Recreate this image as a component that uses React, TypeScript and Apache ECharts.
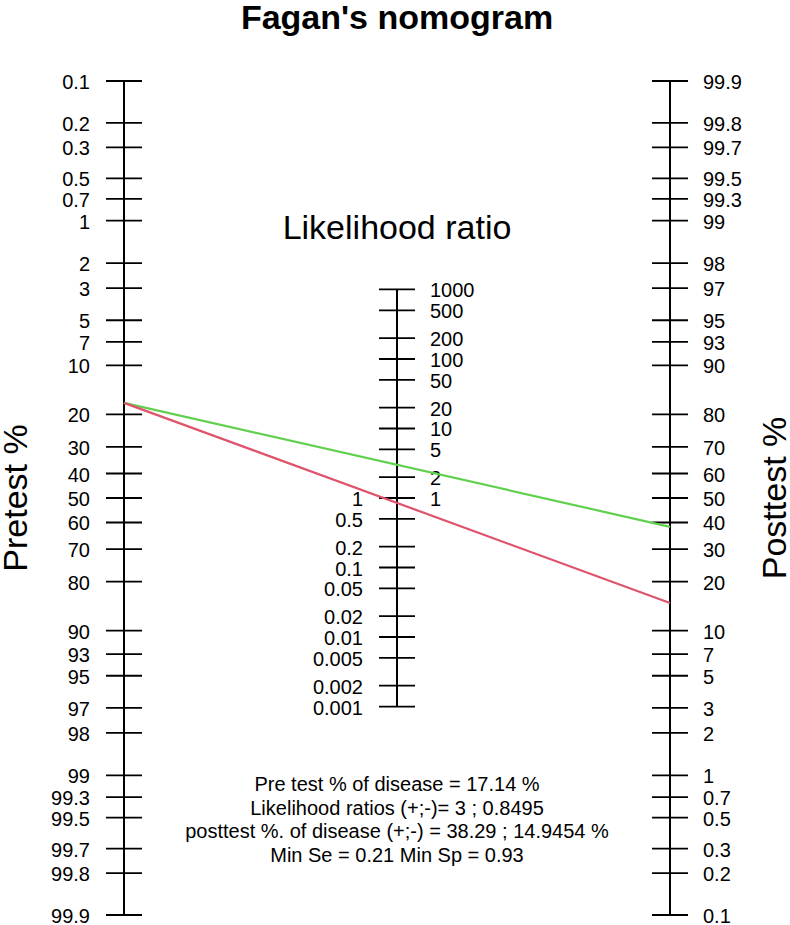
import React, { useEffect, useRef } from "react";
import * as echarts from "echarts";

// ---- data ----
const pretestTicks = [0.1, 0.2, 0.3, 0.5, 0.7, 1, 2, 3, 5, 7, 10, 20, 30, 40, 50, 60, 70, 80, 90, 93, 95, 97, 98, 99, 99.3, 99.5, 99.7, 99.8, 99.9];
const posttestTicks = [0.1, 0.2, 0.3, 0.5, 0.7, 1, 2, 3, 5, 7, 10, 20, 30, 40, 50, 60, 70, 80, 90, 93, 95, 97, 98, 99, 99.3, 99.5, 99.7, 99.8, 99.9];
const lrTicksUpper = [1000, 500, 200, 100, 50, 20, 10, 5, 2, 1];
const lrTicksLower = [1, 0.5, 0.2, 0.1, 0.05, 0.02, 0.01, 0.005, 0.002, 0.001];

const pretest = 17.14;
const lrPositive = 3;
const lrNegative = 0.8495;
const posttestPositive = 38.29;
const posttestNegative = 14.9454;
const minSe = 0.21;
const minSp = 0.93;

const title = "Fagan's nomogram";
const middleTitle = "Likelihood ratio";
const leftName = "Pretest %";
const rightName = "Posttest %";
const infoLines = [
  `Pre test % of disease = ${pretest} %`,
  `Likelihood ratios (+;-)= ${lrPositive} ; ${lrNegative}`,
  `posttest %. of disease (+;-) = ${posttestPositive} ; ${posttestNegative} %`,
  `Min Se = ${minSe} Min Sp = ${minSp}`,
];

const FONT = '"Liberation Sans", Arial, Helvetica, sans-serif';
const GREEN = "#61D04F";
const RED = "#DF536B";
const BIG = 34;
const SMALL = 20;

const logit = (pct: number) => {
  const p = pct / 100;
  return Math.log(p / (1 - p));
};

function tickSeries(items: { x: number; y: number; side: number; label: string }[]) {
  return {
    type: "custom",
    coordinateSystem: "cartesian2d",
    clip: false,
    silent: true,
    z: 3,
    data: items.map((d) => [d.x, d.y, d.side]),
    renderItem: (params: any, api: any) => {
      const it = items[params.dataIndex];
      const pt = api.coord([api.value(0), api.value(1)]);
      const px = pt[0];
      const py = pt[1];
      const side = it.side;
      return {
        type: "group",
        children: [
          {
            type: "line",
            shape: { x1: px - 18, y1: py, x2: px + 18, y2: py },
            style: { stroke: "#000", lineWidth: 1.8 },
          },
          {
            type: "text",
            x: px + (side < 0 ? -34 : 33),
            y: py + 1,
            style: {
              text: it.label,
              fontSize: SMALL,
              fontFamily: FONT,
              fill: "#000",
              textAlign: side < 0 ? "right" : "left",
              align: side < 0 ? "right" : "left",
              textVerticalAlign: "middle",
              verticalAlign: "middle",
            },
          },
        ],
      };
    },
  };
}

function axisLine(x: number, y0: number, y1: number) {
  return {
    type: "line",
    data: [
      [x, y0],
      [x, y1],
    ],
    showSymbol: false,
    symbol: "none",
    clip: false,
    silent: true,
    z: 2,
    lineStyle: { color: "#000", width: 2 },
  };
}

function label(text: string, x: number, y: number, size: number, extra: any = {}) {
  return {
    type: "text",
    x,
    y,
    rotation: extra.rotation || 0,
    style: {
      text,
      fontSize: size,
      fontWeight: extra.bold ? "bold" : "normal",
      fontFamily: FONT,
      fill: "#000",
      textAlign: "center",
      align: "center",
      textVerticalAlign: "middle",
      verticalAlign: "middle",
    },
  };
}

export default function App() {
  const ref = useRef<HTMLDivElement>(null);

  useEffect(() => {
    if (!ref.current) return;
    const chart = echarts.init(ref.current, null, { renderer: "svg" });

    const yMin = logit(pretestTicks[0]);
    const yMax = logit(pretestTicks[pretestTicks.length - 1]);

    const leftItems = pretestTicks.map((p) => ({ x: 0, y: logit(p), side: -1, label: String(p) }));
    const rightItems = posttestTicks.map((p) => ({ x: 1, y: -logit(p), side: 1, label: String(p) }));
    const midUpper = lrTicksUpper.map((lr) => ({ x: 0.5, y: -Math.log(lr) / 2, side: 1, label: String(lr) }));
    const midLower = lrTicksLower.map((lr) => ({ x: 0.5, y: -Math.log(lr) / 2, side: -1, label: String(lr) }));

    const midTop = -Math.log(lrTicksUpper[0]) / 2;
    const midBottom = -Math.log(lrTicksLower[lrTicksLower.length - 1]) / 2;

    const option: any = {
      animation: false,
      backgroundColor: "#fff",
      grid: { left: 124, right: 120, top: 81, bottom: 10 },
      xAxis: { type: "value", min: 0, max: 1, show: false },
      yAxis: { type: "value", min: yMin, max: yMax, inverse: true, show: false },
      graphic: [
        label(title, 397, 17, BIG, { bold: true }),
        label(middleTitle, 397, 227, BIG),
        label(leftName, 15, 498, BIG, { rotation: Math.PI / 2 }),
        label(rightName, 774, 498, BIG, { rotation: Math.PI / 2 }),
        ...infoLines.map((t, i) => label(t, 397, 784 + i * 23.7, SMALL)),
      ],
      series: [
        axisLine(0, yMin, yMax),
        axisLine(1, -logit(posttestTicks[posttestTicks.length - 1]), -logit(posttestTicks[0])),
        axisLine(0.5, midTop, midBottom),
        tickSeries(leftItems),
        tickSeries(rightItems),
        tickSeries(midUpper),
        tickSeries(midLower),
        {
          type: "line",
          name: "LR+",
          data: [
            [0, logit(pretest)],
            [1, -logit(posttestPositive)],
          ],
          showSymbol: false,
          symbol: "none",
          clip: false,
          silent: true,
          z: 5,
          lineStyle: { color: GREEN, width: 2.2 },
        },
        {
          type: "line",
          name: "LR-",
          data: [
            [0, logit(pretest)],
            [1, -logit(posttestNegative)],
          ],
          showSymbol: false,
          symbol: "none",
          clip: false,
          silent: true,
          z: 5,
          lineStyle: { color: RED, width: 2.2 },
        },
      ],
    };

    chart.setOption(option);
    return () => chart.dispose();
  }, []);

  return (
    <div
      ref={ref}
      style={{ position: "absolute", left: 0, top: 0, width: 790, height: 925, background: "#fff" }}
    />
  );
}
